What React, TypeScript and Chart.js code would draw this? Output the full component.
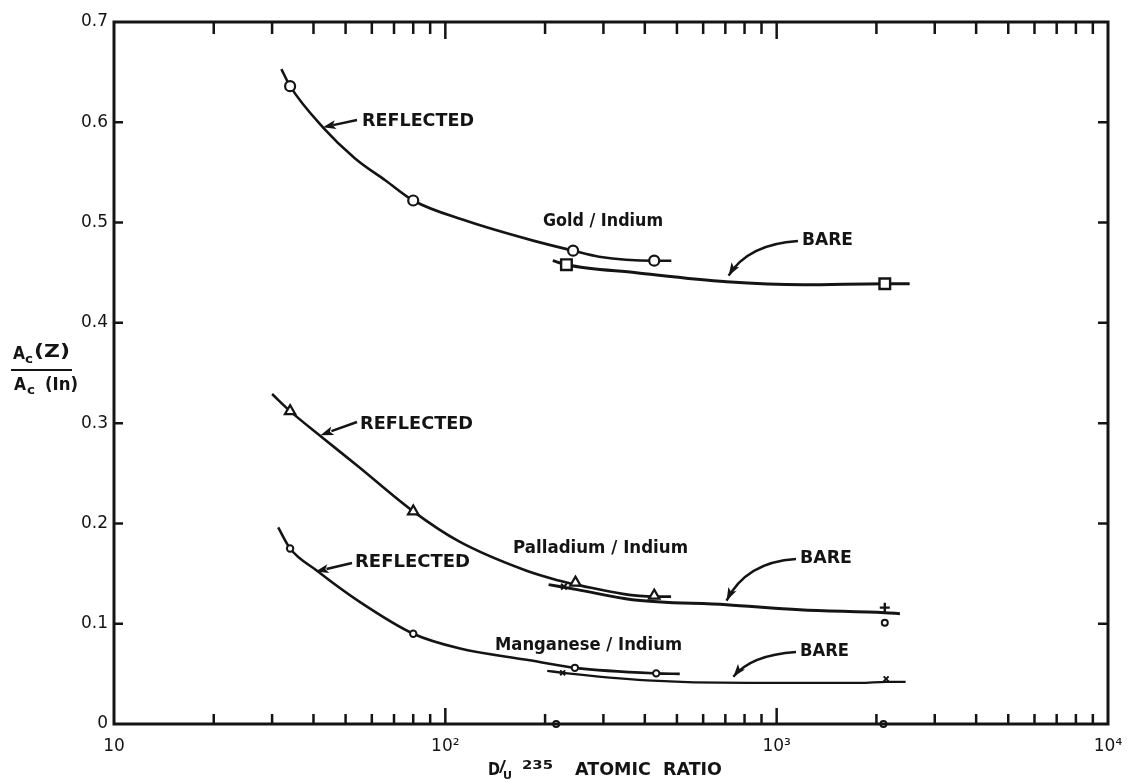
import React, { useEffect, useRef } from "react";
import { Chart, registerables } from "chart.js";

Chart.register(...registerables);

// ---------- data ----------
const xTickValues = [10, 100, 1000, 10000];
const xTickLabels = ["10", "10²", "10³", "10⁴"];
const yTickValues = [0, 0.1, 0.2, 0.3, 0.4, 0.5, 0.6, 0.7];

// Gold / Indium
const goldReflCurveX = [32, 34, 42.7, 53.4, 66, 80, 115, 184, 243, 291, 427, 481];
const goldReflCurveY = [0.653, 0.636, 0.595, 0.564, 0.542, 0.522, 0.502, 0.482, 0.472, 0.466, 0.462, 0.462];
const goldReflPtsX = [34, 80, 243, 427];
const goldReflPtsY = [0.636, 0.522, 0.472, 0.462];
const goldBareCurveX = [211, 232, 377, 706, 1205, 2120, 2520];
const goldBareCurveY = [0.462, 0.458, 0.45, 0.441, 0.438, 0.439, 0.439];
const goldBarePtsX = [232, 2120];
const goldBarePtsY = [0.458, 0.439];

// Palladium / Indium
const pdReflCurveX = [30, 34, 42.6, 54.5, 80, 110, 175, 220, 247, 427, 480];
const pdReflCurveY = [0.329, 0.312, 0.2855, 0.257, 0.212, 0.182, 0.153, 0.143, 0.139, 0.127, 0.127];
const pdReflPtsX = [34, 80, 247, 427];
const pdReflPtsY = [0.312, 0.212, 0.141, 0.128];
const pdBareCurveX = [205, 250, 367, 706, 1173, 2120, 2355];
const pdBareCurveY = [0.139, 0.134, 0.124, 0.119, 0.114, 0.111, 0.11];
const pdBareCrossX = [228];
const pdBareCrossY = [0.137];
const pdBarePlusX = [2120];
const pdBarePlusY = [0.116];
const pdBareCircX = [2120];
const pdBareCircY = [0.101];

// Manganese / Indium
const mnReflCurveX = [31.3, 34, 40.9, 55, 80, 110, 176, 246, 433, 510];
const mnReflCurveY = [0.196, 0.175, 0.153, 0.122, 0.09, 0.0755, 0.064, 0.056, 0.0505, 0.05];
const mnReflPtsX = [34, 80, 246, 433];
const mnReflPtsY = [0.175, 0.09, 0.056, 0.0505];
const mnBareCurveX = [203, 226, 406, 815, 1789, 2140, 2450];
const mnBareCurveY = [0.053, 0.051, 0.0435, 0.041, 0.041, 0.042, 0.042];
const mnBareCrossX = [226, 2140];
const mnBareCrossY = [0.051, 0.045];
const zeroPtsX = [216, 2100];
const zeroPtsY = [0, 0];

const INK = "#141414";

const pts = (xs: number[], ys: number[]) => xs.map((x, i) => ({ x, y: ys[i] }));

const lineDs = (xs: number[], ys: number[], w = 2.6) => ({
  data: pts(xs, ys),
  showLine: true,
  borderColor: INK,
  borderWidth: w,
  pointRadius: 0,
  cubicInterpolationMode: "monotone" as const,
  order: 2,
  clip: false as const,
});

const markDs = (xs: number[], ys: number[], style: string, r: number, bw = 2) => ({
  data: pts(xs, ys),
  showLine: false,
  pointStyle: style,
  pointRadius: r,
  pointBorderWidth: bw,
  borderColor: INK,
  backgroundColor: "#ffffff",
  pointBackgroundColor: "#ffffff",
  pointBorderColor: INK,
  order: 0,
  clip: false as const,
});

// annotation texts (pixel layout)
const annoTexts = [
  { text: "REFLECTED", x: 362, y: 122, w: 112 },
  { text: "Gold / Indium", x: 543, y: 222, w: 120 },
  { text: "BARE", x: 802, y: 241, w: 51 },
  { text: "REFLECTED", x: 360, y: 425, w: 113 },
  { text: "Palladium / Indium", x: 513, y: 549, w: 175 },
  { text: "BARE", x: 800, y: 559, w: 52 },
  { text: "REFLECTED", x: 355, y: 563, w: 115 },
  { text: "Manganese / Indium", x: 495, y: 646, w: 187 },
  { text: "BARE", x: 800, y: 652, w: 49 },
];

// arrows: tail in pixels, tip in data coordinates
const arrows = [
  { fx: 357, fy: 120, tx: 42.7, ty: 0.595, curved: false },
  { fx: 798, fy: 241, tx: 716, ty: 0.447, curved: true },
  { fx: 357, fy: 422, tx: 42, ty: 0.288, curved: false },
  { fx: 796, fy: 559, tx: 706, ty: 0.123, curved: true },
  { fx: 352, fy: 563, tx: 40.6, ty: 0.152, curved: false },
  { fx: 796, fy: 652, tx: 740, ty: 0.047, curved: true },
];

function fitText(ctx: CanvasRenderingContext2D, text: string, x: number, y: number, w: number, font: string) {
  ctx.save();
  ctx.font = font;
  ctx.textBaseline = "middle";
  ctx.textAlign = "left";
  const m = ctx.measureText(text).width;
  ctx.translate(x, y);
  ctx.scale(w / m, 1);
  ctx.fillText(text, 0, 0);
  ctx.restore();
}

function arrowHead(ctx: CanvasRenderingContext2D, tipX: number, tipY: number, dx: number, dy: number) {
  const len = Math.hypot(dx, dy) || 1;
  const ux = dx / len, uy = dy / len;
  const L = 13, H = 4.5;
  const bx = tipX - ux * L, by = tipY - uy * L;
  ctx.beginPath();
  ctx.moveTo(tipX, tipY);
  ctx.lineTo(bx - uy * H, by + ux * H);
  ctx.lineTo(bx + ux * 3, by + uy * 3);
  ctx.lineTo(bx + uy * H, by - ux * H);
  ctx.closePath();
  ctx.fill();
}

const decorPlugin = {
  id: "decor",
  afterDraw(chart: any) {
    const ctx: CanvasRenderingContext2D = chart.ctx;
    const xs = chart.scales.x, ys = chart.scales.y;
    const { left, right, top, bottom } = chart.chartArea;
    ctx.save();
    ctx.strokeStyle = INK;
    ctx.fillStyle = INK;
    ctx.lineCap = "butt";
    // frame
    ctx.lineWidth = 3;
    ctx.strokeRect(left, top, right - left, bottom - top);
    // y ticks (inward, both sides)
    ctx.lineWidth = 2.5;
    yTickValues.forEach((v) => {
      if (v === 0 || v === 0.7) return;
      const py = ys.getPixelForValue(v);
      ctx.beginPath();
      ctx.moveTo(left, py); ctx.lineTo(left + 9, py);
      ctx.moveTo(right - 10, py); ctx.lineTo(right, py);
      ctx.stroke();
    });
    // x ticks (log minor + decades)
    [10, 100, 1000].forEach((d) => {
      for (let m = 1; m <= 9; m++) {
        if (d === 10 && m === 1) continue;
        const px = xs.getPixelForValue(d * m);
        const major = m === 1;
        ctx.beginPath();
        ctx.moveTo(px, bottom); ctx.lineTo(px, bottom - (major ? 16 : 10));
        ctx.moveTo(px, top); ctx.lineTo(px, top + (major ? 17 : 12));
        ctx.stroke();
      }
    });
    // annotation texts
    ctx.fillStyle = INK;
    annoTexts.forEach((t) => fitText(ctx, t.text, t.x, t.y, t.w, "bold 17px 'DejaVu Sans'"));
    // arrows
    ctx.lineWidth = 2.4;
    arrows.forEach((a) => {
      const tx = xs.getPixelForValue(a.tx);
      const ty = ys.getPixelForValue(a.ty);
      if (a.curved) {
        const cx = tx + 0.28 * (a.fx - tx);
        const cy = a.fy + 3;
        ctx.beginPath();
        ctx.moveTo(a.fx, a.fy);
        ctx.quadraticCurveTo(cx, cy, tx, ty);
        ctx.stroke();
        arrowHead(ctx, tx, ty, tx - cx, ty - cy);
      } else {
        ctx.beginPath();
        ctx.moveTo(a.fx, a.fy);
        ctx.lineTo(tx + (a.fx - tx) * 0.3, ty + (a.fy - ty) * 0.3);
        ctx.stroke();
        arrowHead(ctx, tx, ty, tx - a.fx, ty - a.fy);
      }
    });
    // x axis title: D/U235 ATOMIC RATIO
    fitText(ctx, "D", 488, 771, 12, "bold 17px 'DejaVu Sans'");
    fitText(ctx, "/", 499, 768, 7, "bold 15px 'DejaVu Sans'");
    fitText(ctx, "U", 503, 776, 9, "bold 10px 'DejaVu Sans'");
    fitText(ctx, "235", 522, 766, 31, "bold 13px 'DejaVu Sans'");
    fitText(ctx, "ATOMIC  RATIO", 575, 771, 147, "bold 17px 'DejaVu Sans'");
    // y axis title: Ac(Z) / Ac(In)
    fitText(ctx, "A", 13, 355, 12, "bold 17px 'DejaVu Sans'");
    fitText(ctx, "c", 25, 360, 8, "bold 12px 'DejaVu Sans'");
    fitText(ctx, "(Z)", 34, 353, 36, "bold 17px 'DejaVu Sans'");
    ctx.lineWidth = 2;
    ctx.beginPath(); ctx.moveTo(11, 370); ctx.lineTo(72, 370); ctx.stroke();
    fitText(ctx, "A", 14, 386, 12, "bold 17px 'DejaVu Sans'");
    fitText(ctx, "c", 27, 391, 8, "bold 12px 'DejaVu Sans'");
    fitText(ctx, "(In)", 45, 386, 33, "bold 17px 'DejaVu Sans'");
    ctx.restore();
  },
};

export default function App() {
  const ref = useRef<HTMLCanvasElement | null>(null);
  useEffect(() => {
    if (!ref.current) return;
    Chart.defaults.font.family = "'DejaVu Sans'";
    const chart = new Chart(ref.current, {
      type: "scatter",
      data: {
        datasets: [
          lineDs(goldReflCurveX, goldReflCurveY),
          lineDs(goldBareCurveX, goldBareCurveY, 3),
          lineDs(pdReflCurveX, pdReflCurveY),
          lineDs(pdBareCurveX, pdBareCurveY, 3),
          lineDs(mnReflCurveX, mnReflCurveY),
          lineDs(mnBareCurveX, mnBareCurveY, 2.4),
          markDs(goldReflPtsX, goldReflPtsY, "circle", 5, 2.2),
          markDs(goldBarePtsX, goldBarePtsY, "rect", 7.5, 2.4),
          markDs(pdReflPtsX, pdReflPtsY, "triangle", 6, 2.2),
          markDs(pdBareCrossX, pdBareCrossY, "crossRot", 4, 2),
          markDs(pdBarePlusX, pdBarePlusY, "cross", 5, 2.4),
          markDs(pdBareCircX, pdBareCircY, "circle", 3, 2),
          markDs(mnReflPtsX, mnReflPtsY, "circle", 3.2, 2),
          markDs(mnBareCrossX, mnBareCrossY, "crossRot", 3.5, 2),
          markDs(zeroPtsX, zeroPtsY, "circle", 3, 2),
        ] as any,
      },
      options: {
        responsive: false,
        animation: false,
        events: [],
        layout: { padding: { left: 0, right: 19, top: 22, bottom: 0 } },
        plugins: { legend: { display: false }, tooltip: { enabled: false }, title: { display: false } },
        scales: {
          x: {
            type: "logarithmic",
            min: 10,
            max: 10000,
            grid: { display: false, drawTicks: false },
            border: { display: false },
            afterBuildTicks: (s: any) => {
              s.ticks = xTickValues.map((v) => ({ value: v }));
            },
            afterFit: (s: any) => {
              s.height = 58;
              s.paddingLeft = 0;
              s.paddingRight = 0;
            },
            ticks: {
              autoSkip: false,
              maxRotation: 0,
              padding: 12,
              color: INK,
              font: { size: 17 },
              callback: (v: any) => {
                const i = xTickValues.indexOf(Number(v));
                return i >= 0 ? xTickLabels[i] : "";
              },
            },
          },
          y: {
            type: "linear",
            min: 0,
            max: 0.7,
            grid: { display: false, drawTicks: false },
            border: { display: false },
            afterBuildTicks: (s: any) => {
              s.ticks = yTickValues.map((v) => ({ value: v }));
            },
            afterFit: (s: any) => {
              s.width = 114;
              s.paddingTop = 0;
              s.paddingBottom = 0;
            },
            ticks: {
              padding: 6,
              color: INK,
              font: { size: 17 },
              callback: (v: any) => (Number(v) === 0 ? "0" : Number(v).toFixed(1)),
            },
          },
        },
      },
      plugins: [decorPlugin],
    });
    return () => chart.destroy();
  }, []);
  return (
    <div style={{ position: "absolute", left: 0, top: 0, width: 1127, height: 782, background: "#fff" }}>
      <canvas ref={ref} width={1127} height={782} style={{ width: 1127, height: 782, display: "block" }} />
    </div>
  );
}
